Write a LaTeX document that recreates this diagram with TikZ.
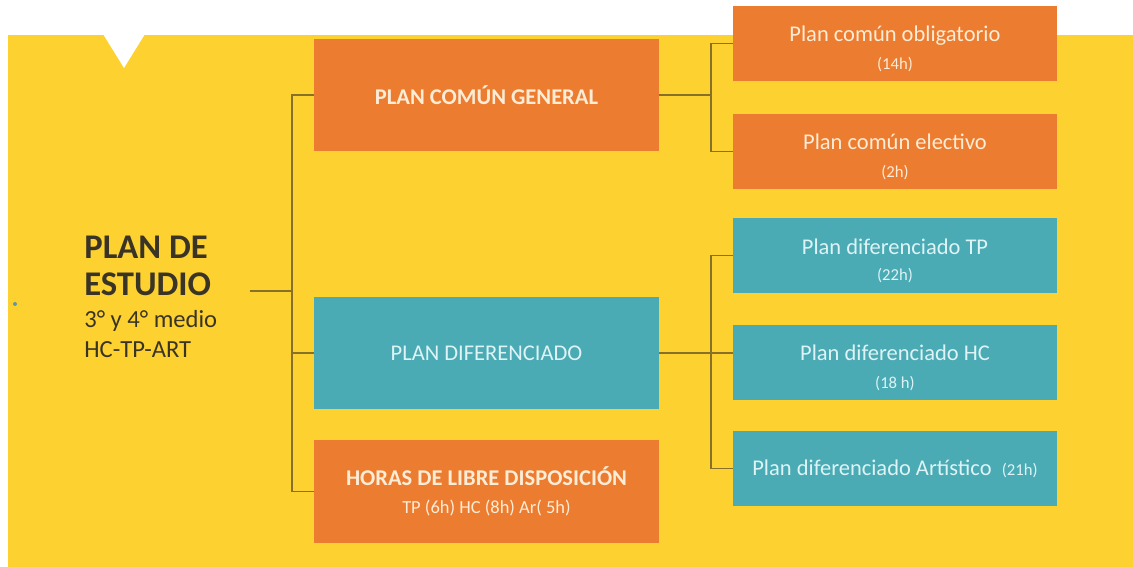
\documentclass[tikz,border=0pt]{standalone}
\usepackage{fontspec}
\setmainfont{Carlito}
\usetikzlibrary{positioning}
\definecolor{myyellow}{RGB}{253,209,47}
\definecolor{myorange}{RGB}{236,124,48}
\definecolor{myteal}{RGB}{74,171,181}
\definecolor{myline}{RGB}{135,112,40}
\definecolor{mycream}{RGB}{253,236,214}
\definecolor{mycyan}{RGB}{222,243,245}
\definecolor{mytitle}{RGB}{58,52,38}
\newcommand{\toppad}{\rule{0pt}{15pt}}

\begin{document}
\begin{tikzpicture}[x=0.02cm,y=-0.02cm,
  obox/.style={fill=myorange,text=mycream,align=center,inner sep=0pt},
  tbox/.style={fill=myteal,text=mycyan,align=center,inner sep=0pt},
  midbox/.style={minimum width=6.9cm,minimum height=2.24cm,font=\fontsize{12.8}{15}\selectfont},
  sidebox/.style={minimum width=6.48cm,minimum height=1.5cm,font=\fontsize{12.8}{17}\selectfont},
  ltxt/.style={anchor=north west,align=flush left,text width=3.3cm,inner sep=0pt,text=mytitle},
  lnk/.style={draw=myline,line width=0.6pt}]

 \useasboundingbox (0,0) rectangle (1133,567);
 % background and notch
 \fill[white] (0,0) rectangle (1133,567);
 \fill[myyellow] (8,35) rectangle (1133,567);
 \fill[white] (103,34) -- (145,34) -- (124,68) -- cycle;
 \fill[myteal!55!gray] (15,304) circle (0.04cm);

 % title on the left
 \node[ltxt,font=\fontsize{19.7}{21}\selectfont\bfseries] (title) at (84,236) {PLAN DE\\ESTUDIO};
 \node[ltxt,font=\fontsize{14}{17}\selectfont] (sub) at (84,310) {3° y 4° medio\\HC-TP-ART};

 % middle column
 \node[obox,midbox] (pcg) at (486.5,95) {\bfseries PLAN COMÚN GENERAL};
 \node[tbox,midbox] (pd) at (486.5,353) {PLAN DIFERENCIADO};
 \node[obox,midbox,minimum height=2.06cm,below=0.6cm of pd] (horas)
   {\bfseries HORAS DE LIBRE DISPOSICIÓN\\[1pt]\fontsize{10.5}{12}\selectfont TP (6h) HC (8h) Ar( 5h)};

 % right column
 \node[obox,sidebox] (obl) at (895,43.5) {\toppad Plan común obligatorio\\[-1pt]\fontsize{9.5}{11}\selectfont(14h)};
 \node[obox,sidebox,below=0.64cm of obl] (elec) {\toppad Plan común electivo\\[-1pt]\fontsize{9.5}{11}\selectfont(2h)};
 \node[tbox,sidebox] (tp) at (895,255.5) {\toppad Plan diferenciado TP\\[-2pt]\fontsize{9.5}{11}\selectfont(22h)};
 \node[tbox,sidebox,below=0.62cm of tp] (hc) {\toppad Plan diferenciado HC\\[-1pt]\fontsize{9.5}{11}\selectfont(18 h)};
 \node[tbox,sidebox,below=0.62cm of hc] (art) {Plan diferenciado Artístico \ {\fontsize{9.5}{11}\selectfont(21h)}};

 % connectors
 \coordinate (jl) at (292,291);
 \coordinate (jr1) at (711,95);
 \coordinate (jr2) at (711,353);
 \draw[lnk] (title.east |- jl) -- (jl);
 \draw[lnk] (pcg.west) -| (jl) |- (horas.west);
 \draw[lnk] (pd.west) -- (pd.west -| jl);
 \draw[lnk] (pcg.east) -- (jr1);
 \draw[lnk] (obl.west) -| (jr1) |- (elec.west);
 \draw[lnk] (pd.east) -- (pd.east -| hc.west);
 \draw[lnk] (tp.west) -| (jr2) |- (art.west);

\end{tikzpicture}
\end{document}
